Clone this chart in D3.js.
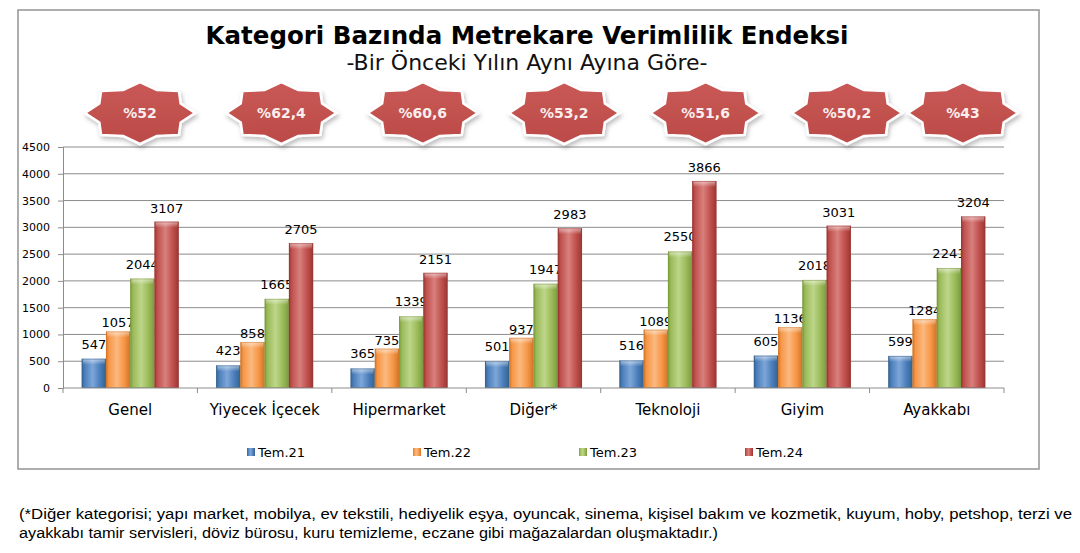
<!DOCTYPE html>
<html>
<head>
<meta charset="utf-8">
<script src="https://cdn.jsdelivr.net/npm/d3@7"></script>
<style>
  html, body { margin: 0; padding: 0; background: #ffffff; }
  svg { display: block; }
</style>
</head>
<body>
<div id="chart"></div>
<script>
// ---------- DATA ----------
const categories = ["Genel", "Yiyecek İçecek", "Hipermarket", "Diğer*", "Teknoloji", "Giyim", "Ayakkabı"];
const seriesNames = ["Tem.21", "Tem.22", "Tem.23", "Tem.24"];
const tem21 = [547, 423, 365, 501, 516, 605, 599];
const tem22 = [1057, 858, 735, 937, 1089, 1136, 1284];
const tem23 = [2044, 1665, 1339, 1947, 2550, 2018, 2241];
const tem24 = [3107, 2705, 2151, 2983, 3866, 3031, 3204];
const changeLabels = ["%52", "%62,4", "%60,6", "%53,2", "%51,6", "%50,2", "%43"];
const yTickValues = [0, 500, 1000, 1500, 2000, 2500, 3000, 3500, 4000, 4500];
const titleText = "Kategori Bazında Metrekare Verimlilik Endeksi";
const subtitleText = "-Bir Önceki Yılın Aynı Ayına Göre-";
const footnoteLines = [
  "(*Diğer kategorisi; yapı market, mobilya, ev tekstili, hediyelik eşya, oyuncak, sinema, kişisel bakım ve kozmetik, kuyum, hoby, petshop, terzi ve",
  "ayakkabı tamir servisleri, döviz bürosu, kuru temizleme, eczane gibi mağazalardan oluşmaktadır.)"
];

const seriesValues = [tem21, tem22, tem23, tem24];

// ---------- STYLE / LAYOUT ----------
const W = 1080, H = 553;
const plot = { left: 63, right: 1004, top: 147, bottom: 388 };
const colors = [
  { base: "#4A7EBB", light: "#7EA6D8", dark: "#35628F" },
  { base: "#F79646", light: "#FBB97F", dark: "#D07528" },
  { base: "#9BBB59", light: "#BDD68A", dark: "#7C9A3E" },
  { base: "#C0504D", light: "#D8807D", dark: "#9A3633" }
];
const labelOffsets = [10, 4, 10, 9];
const footnoteWidths = [1053, 699];

const svg = d3.select("#chart").append("svg")
  .attr("width", W).attr("height", H)
  .attr("viewBox", `0 0 ${W} ${H}`);

const defs = svg.append("defs");
colors.forEach((c, i) => {
  const g = defs.append("linearGradient").attr("id", "barGrad" + i)
    .attr("x1", "0").attr("x2", "1").attr("y1", "0").attr("y2", "0");
  g.append("stop").attr("offset", "0").attr("stop-color", c.dark);
  g.append("stop").attr("offset", "0.12").attr("stop-color", c.base);
  g.append("stop").attr("offset", "0.45").attr("stop-color", c.light);
  g.append("stop").attr("offset", "0.75").attr("stop-color", c.base);
  g.append("stop").attr("offset", "1").attr("stop-color", c.dark);
  const t = defs.append("linearGradient").attr("id", "topGrad" + i)
    .attr("x1", "0").attr("x2", "0").attr("y1", "0").attr("y2", "1");
  t.append("stop").attr("offset", "0").attr("stop-color", "#ffffff").attr("stop-opacity", 0.55);
  t.append("stop").attr("offset", "1").attr("stop-color", "#ffffff").attr("stop-opacity", 0);
});
const starGrad = defs.append("linearGradient").attr("id", "starGrad")
  .attr("x1", "0").attr("x2", "0").attr("y1", "0").attr("y2", "1");
starGrad.append("stop").attr("offset", "0").attr("stop-color", "#C95956");
starGrad.append("stop").attr("offset", "1").attr("stop-color", "#BB4A47");
const shadow = defs.append("filter").attr("id", "starShadow")
  .attr("x", "-30%").attr("y", "-30%").attr("width", "160%").attr("height", "160%");
shadow.append("feDropShadow").attr("dx", 1.5).attr("dy", 3).attr("stdDeviation", 2)
  .attr("flood-color", "#000").attr("flood-opacity", 0.25);

// Frame
svg.append("rect")
  .attr("x", 18).attr("y", 10).attr("width", 1021).attr("height", 459)
  .attr("fill", "#fff").attr("stroke", "#9a9a9a").attr("stroke-width", 1.6);

// Title
svg.append("text")
  .attr("x", 527).attr("y", 44)
  .attr("text-anchor", "middle")
  .attr("font-family", "DejaVu Sans, Verdana, sans-serif")
  .attr("font-weight", "bold").attr("font-size", 24.5)
  .attr("fill", "#000")
  .text(titleText);
svg.append("text")
  .attr("x", 527).attr("y", 70)
  .attr("text-anchor", "middle")
  .attr("font-family", "DejaVu Sans, Verdana, sans-serif")
  .attr("font-size", 22)
  .attr("fill", "#111")
  .text(subtitleText);

// Scales
const x0 = d3.scaleBand().domain(categories).range([plot.left, plot.right]).paddingInner(0).paddingOuter(0);
const x1 = d3.scaleBand().domain(seriesNames).range([0, x0.bandwidth()]).paddingInner(0).paddingOuter(0.77);
const y = d3.scaleLinear().domain([0, 4500]).range([plot.bottom, plot.top]);

// Gridlines
svg.append("g").selectAll("line").data(yTickValues.filter(d => d > 0)).join("line")
  .attr("x1", plot.left).attr("x2", plot.right)
  .attr("y1", d => y(d)).attr("y2", d => y(d))
  .attr("stroke", "#8c8c8c").attr("stroke-width", 1);

// Y axis
const yAxis = svg.append("g").attr("transform", `translate(${plot.left},0)`)
  .call(d3.axisLeft(y).tickValues(yTickValues).tickSize(5).tickPadding(8).tickFormat(d3.format("d")));
yAxis.select(".domain").attr("stroke", "#8c8c8c");
yAxis.selectAll(".tick line").attr("stroke", "#8c8c8c");
yAxis.selectAll("text").attr("font-family", "DejaVu Sans, Verdana, sans-serif").attr("font-size", 11).attr("fill", "#000");

// Bars
const groups = svg.append("g").selectAll("g").data(categories).join("g")
  .attr("transform", d => `translate(${x0(d)},0)`);

groups.each(function(cat, ci) {
  const g = d3.select(this);
  seriesNames.forEach((s, si) => {
    const v = seriesValues[si][ci];
    const bx = x1(s), bw = x1.bandwidth();
    const top = y(v), h = y(0) - y(v);
    g.append("rect").attr("x", bx).attr("y", top).attr("width", bw).attr("height", h)
      .attr("fill", `url(#barGrad${si})`);
    g.append("rect").attr("x", bx + 1).attr("y", top).attr("width", bw - 2).attr("height", Math.min(6, h))
      .attr("fill", `url(#topGrad${si})`);
    g.append("rect").attr("x", bx + 0.5).attr("y", top + 0.5).attr("width", bw - 1).attr("height", Math.max(0, h - 1))
      .attr("fill", "none").attr("stroke", colors[si].dark).attr("stroke-opacity", 0.5).attr("stroke-width", 1);
    g.append("text")
      .attr("x", bx + bw / 2).attr("y", top - labelOffsets[si])
      .attr("text-anchor", "middle")
      .attr("font-family", "DejaVu Sans, Verdana, sans-serif")
      .attr("font-size", 13).attr("fill", "#000")
      .text(v);
  });
});

// X axis
const xAxisG = svg.append("g").attr("transform", `translate(0,${plot.bottom})`);
xAxisG.append("line").attr("x1", plot.left).attr("x2", plot.right).attr("y1", 0).attr("y2", 0)
  .attr("stroke", "#8c8c8c");
const boundaries = categories.map(c => x0(c)).concat([plot.right]);
xAxisG.selectAll("line.tk").data(boundaries).join("line").attr("class", "tk")
  .attr("x1", d => d).attr("x2", d => d).attr("y1", 0).attr("y2", 5)
  .attr("stroke", "#8c8c8c");
xAxisG.selectAll("text").data(categories).join("text")
  .attr("x", d => x0(d) + x0.bandwidth() / 2).attr("y", 27)
  .attr("text-anchor", "middle")
  .attr("font-family", "DejaVu Sans, Verdana, sans-serif")
  .attr("font-size", 15).attr("fill", "#000")
  .text(d => d);

// Legend
const legendX = d3.scaleLinear().domain([0, 3]).range([247, 745]);
const leg = svg.append("g").selectAll("g").data(seriesNames).join("g")
  .attr("transform", (d, i) => `translate(${legendX(i)},452)`);
leg.append("rect").attr("x", 0).attr("y", -4).attr("width", 8).attr("height", 8)
  .attr("fill", (d, i) => `url(#barGrad${i})`);
leg.append("text").attr("x", 11).attr("y", 5)
  .attr("font-family", "DejaVu Sans, Verdana, sans-serif")
  .attr("font-size", 13).attr("fill", "#000")
  .text(d => d);

// Star badges
function starPath(rx, ry, k) {
  const pts = [];
  for (let i = 0; i < 16; i++) {
    const a = -Math.PI / 2 + i * Math.PI / 8;
    const r = i % 2 === 0 ? 1 : k;
    pts.push([Math.cos(a) * r * rx, Math.sin(a) * r * ry]);
  }
  return "M" + pts.map(p => p[0].toFixed(2) + "," + p[1].toFixed(2)).join("L") + "Z";
}
const badgeX = d3.scaleLinear().domain([0, 5, 6]).range([140, 847, 963]);
const badgeY = 113;
const badges = svg.append("g").selectAll("g").data(changeLabels).join("g")
  .attr("transform", (d, i) => `translate(${badgeX(i)},${badgeY})`);
badges.append("path")
  .attr("d", starPath(55, 31, 0.8))
  .attr("fill", "url(#starGrad)")
  .attr("stroke", "#ffffff").attr("stroke-width", 2.5)
  .attr("filter", "url(#starShadow)");
badges.append("text")
  .attr("x", 0).attr("y", 5)
  .attr("text-anchor", "middle")
  .attr("font-family", "DejaVu Sans, Verdana, sans-serif")
  .attr("font-weight", "bold").attr("font-size", 14)
  .attr("fill", "#fbeeee")
  .text(d => d);

// Footnote
svg.append("g").selectAll("text").data(footnoteLines).join("text")
  .attr("x", 19).attr("y", (d, i) => 519 + i * 19)
  .attr("font-family", "Liberation Sans Narrow, Arial Narrow, Liberation Sans, sans-serif")
  .attr("font-size", 15.5).attr("fill", "#000")
  .attr("textLength", (d, i) => footnoteWidths[i])
  .attr("lengthAdjust", "spacingAndGlyphs")
  .text(d => d);
</script>
</body>
</html>
